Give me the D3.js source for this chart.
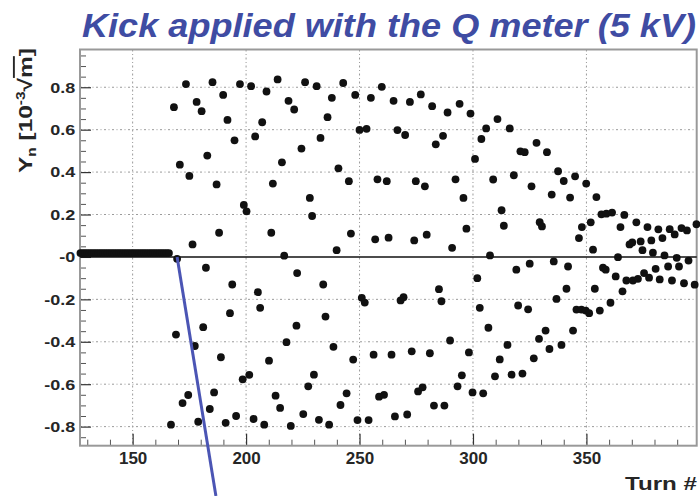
<!DOCTYPE html>
<html>
<head>
<meta charset="utf-8">
<script src="https://cdn.jsdelivr.net/npm/d3@7"></script>
<style>
  body { margin: 0; background: #fff; }
  svg { display: block; }
  text { font-family: "Liberation Sans", Arial, sans-serif; }
</style>
</head>
<body>
<svg id="chart" width="700" height="496"></svg>
<script>
// turns before the kick (flat, near zero)
const preTurns = [127,128,129,130,131,132,133,134,135,136,137,138,139,140,141,142,143,144,145,146,
                  147,148,149,150,151,152,153,154,155,156,157,158,159,160,161,162,163,164,165,166];
const preYn = [0.018,0.018,0.018,0.018,0.018,0.018,0.018,0.018,0.018,0.018,0.018,0.018,0.018,0.018,0.018,0.018,0.018,0.018,0.018,0.018,
               0.018,0.018,0.018,0.018,0.018,0.018,0.018,0.018,0.018,0.018,0.018,0.018,0.018,0.018,0.018,0.018,0.018,0.018,0.018,0.018];

// turns after the kick
const kickTurns = [166.9,168.2,169.1,169.6,170.8,172.0,173.5,174.5,175.0,176.4,177.4,178.2,178.9,180.4,181.1,182.3,182.9,184.0,185.2,185.9,
  187.0,188.1,188.9,189.9,191.0,191.8,192.9,193.9,194.9,195.6,197.3,198.5,199.0,200.2,201.4,202.2,203.3,204.0,205.2,206.2,
  207.1,208.0,209.0,210.1,211.1,211.8,213.0,213.9,215.0,215.8,216.8,217.8,218.7,219.7,221.2,222.2,222.5,224.4,225.2,226.0,
  227.4,228.1,229.1,229.9,231.1,232.1,232.8,234.0,235.0,235.9,236.6,237.8,238.5,239.9,240.7,241.6,242.8,244.3,245.3,246.2,
  247.2,248.1,249.1,250.0,251.0,252.3,253.1,254.0,255.0,256.2,256.9,257.9,258.6,259.8,260.8,262.0,262.8,264.1,265.0,265.6,
  266.7,268.1,269.4,270.1,271.0,272.2,273.0,274.1,274.8,275.8,277.0,277.8,278.8,279.6,281.0,282.0,282.8,283.6,285.0,286.1,
  286.8,287.4,288.8,289.9,290.8,292.3,293.2,294.1,295.1,295.8,297.1,298.2,298.9,299.8,300.9,301.9,303.0,303.7,304.5,305.8,
  306.8,307.5,308.9,309.7,310.8,311.8,312.6,313.6,315.2,316.2,317.0,318.0,319.1,319.9,320.9,321.8,322.8,324.3,325.0,325.8,
  326.8,328.0,329.1,329.4,330.4,332.0,332.6,333.7,334.7,335.6,336.8,337.5,339.0,340.0,341.2,341.9,342.8,344.1,345.0,345.6,
  346.7,347.8,348.0,349.7,349.9,351.2,351.9,352.9,353.7,354.4,355.9,356.6,357.3,358.5,358.8,360.6,361.3,362.9,363.9,365.0,
  365.9,366.7,367.6,369.0,370.2,370.5,372.0,372.7,373.9,374.7,375.4,376.9,377.6,378.6,379.3,380.5,381.7,382.3,383.5,384.4,
  386.0,386.7,387.7,388.9,389.8,390.8,391.9,393.0,394.3,395.0,397.7,398.5];
const kickYn = [-0.791,0.706,-0.366,-0.009,0.435,-0.689,0.815,-0.651,0.382,0.059,-0.420,0.731,-0.777,0.687,-0.331,-0.051,0.478,-0.717,0.824,-0.639,
  0.342,0.114,-0.473,0.764,-0.782,0.646,-0.265,-0.130,0.550,-0.750,0.815,-0.577,0.245,0.215,-0.556,0.805,-0.764,0.568,-0.166,-0.240,
  0.635,-0.791,0.780,-0.489,0.114,0.346,-0.654,0.837,-0.712,0.446,0.006,-0.402,0.736,-0.797,0.695,-0.324,-0.076,0.511,-0.741,0.824,
  -0.610,0.278,0.193,-0.555,0.805,-0.768,0.561,-0.130,-0.281,0.659,-0.791,0.750,-0.424,0.032,0.418,-0.698,0.820,-0.643,0.357,0.110,
  -0.484,0.764,-0.769,0.599,-0.193,-0.215,0.604,-0.769,0.750,-0.461,0.083,0.366,-0.659,0.802,-0.650,0.357,0.091,-0.461,0.736,-0.752,
  0.598,-0.205,-0.190,0.575,-0.743,0.731,-0.445,0.078,0.357,-0.634,0.766,-0.615,0.333,0.105,-0.454,0.711,-0.701,0.531,-0.152,-0.209,
  0.571,-0.701,0.681,-0.394,0.043,0.366,-0.610,0.722,-0.558,0.278,0.133,-0.450,0.676,-0.639,0.462,-0.100,-0.240,0.556,-0.643,0.606,
  -0.334,0.007,0.365,-0.563,0.650,-0.483,0.220,0.147,-0.415,0.606,-0.555,0.385,-0.060,-0.229,0.498,-0.550,0.494,-0.247,-0.032,0.333,
  -0.478,0.538,-0.386,0.164,0.144,-0.347,0.494,-0.434,0.294,-0.021,-0.198,0.404,-0.415,0.358,-0.150,-0.045,0.280,-0.347,0.380,-0.248,
  0.089,-0.248,0.141,-0.253,0.346,-0.265,0.163,0.034,-0.150,0.282,-0.253,0.201,-0.051,-0.060,0.204,-0.216,0.209,-0.092,-0.001,0.141,
  -0.162,0.198,-0.111,0.059,0.068,-0.111,0.163,-0.103,0.073,0.032,-0.076,0.141,-0.098,0.078,0.020,-0.056,0.130,-0.106,0.089,0.007,
  -0.045,0.131,-0.111,0.106,-0.004,-0.045,0.136,-0.124,0.125,-0.017,-0.131,0.154];

const xTicks = [150, 200, 250, 300, 350];
const yTicks = [-0.8, -0.6, -0.4, -0.2, 0, 0.2, 0.4, 0.6, 0.8];
const yTickLabels = ["-0.8", "-0.6", "-0.4", "-0.2", "-0", "0.2", "0.4", "0.6", "0.8"];
const titleText = "Kick applied with the Q meter (5 kV)";
// blue annotation line, in data units (ends below the frame)
const kickMarker = [[169.6, 0], [186.7, -1.127]];

const svg = d3.select('#chart')
const plotLeft = 80, plotRight = 696.7, plotTop = 49.5, plotBottom = 445.7

const x = d3.scaleLinear().domain([126.8, 398.6]).range([plotLeft, plotRight])
const y = d3.scaleLinear().domain([-0.890, 0.978]).range([plotBottom, plotTop])

const points = preTurns.map((t, i) => ({t, v: preYn[i]}))
    .concat(kickTurns.map((t, i) => ({t, v: kickYn[i]})))

// grid
const grid = svg.append('g').attr('class', 'grid')
grid.selectAll('line.gx').data(xTicks).enter().append('line').attr('class', 'gx')
    .attr('x1', d => x(d)).attr('x2', d => x(d))
    .attr('y1', plotTop).attr('y2', plotBottom)
grid.selectAll('line.gy').data(yTicks.filter(d => d !== 0)).enter().append('line').attr('class', 'gy')
    .attr('x1', plotLeft).attr('x2', plotRight)
    .attr('y1', d => y(d)).attr('y2', d => y(d))
grid.selectAll('line')
    .attr('stroke', '#9a9a9a')
    .attr('stroke-width', 1)
    .attr('stroke-dasharray', '2,2.5,1,2.5')

// minor ticks
const yMinor = d3.range(-0.85, 0.96, 0.05).map(d => +d.toFixed(2)).filter(d => Math.abs(Math.round(d * 5) - d * 5) > 1e-6)
const xMinor = d3.range(130, 399, 10).filter(d => d % 50 !== 0)

svg.append('g')
    .attr('transform', `translate(${plotLeft},0)`)
    .call(d3.axisLeft(y).tickValues(yMinor).tickSize(-6).tickFormat(''))
    .call(g => g.select('.domain').remove())
    .selectAll('line').attr('stroke', '#555')

svg.append('g')
    .attr('transform', `translate(0,${plotBottom})`)
    .call(d3.axisBottom(x).tickValues(xMinor).tickSize(-6).tickFormat(''))
    .call(g => g.select('.domain').remove())
    .selectAll('line').attr('stroke', '#555')

// major ticks + labels
const yAxisG = svg.append('g')
    .attr('transform', `translate(${plotLeft},0)`)
    .call(d3.axisLeft(y).tickValues(yTicks).tickSize(-11).tickPadding(4)
        .tickFormat((d, i) => yTickLabels[i]))
yAxisG.select('.domain').remove()
yAxisG.selectAll('line').attr('stroke', '#333').attr('stroke-width', 1.2)
yAxisG.selectAll('text')
    .attr('font-size', 15).attr('font-weight', 'bold').attr('fill', '#262626')
    .attr('transform', 'scale(1.2,1)')

const xAxisG = svg.append('g')
    .attr('transform', `translate(0,${plotBottom})`)
    .call(d3.axisBottom(x).tickValues(xTicks).tickSize(-12).tickPadding(6))
xAxisG.select('.domain').remove()
xAxisG.selectAll('line').attr('stroke', '#333').attr('stroke-width', 1.2)
xAxisG.selectAll('text')
    .attr('font-size', 17).attr('font-weight', 'bold').attr('fill', '#262626')

// frame
svg.append('rect')
    .attr('x', plotLeft).attr('y', plotTop)
    .attr('width', plotRight - plotLeft).attr('height', plotBottom - plotTop)
    .attr('fill', 'none').attr('stroke', '#999').attr('stroke-width', 2)

// zero line
svg.append('line')
    .attr('x1', plotLeft).attr('x2', plotRight)
    .attr('y1', y(0)).attr('y2', y(0))
    .attr('stroke', '#111').attr('stroke-width', 1.6)

// points
svg.append('g').selectAll('circle')
    .data(points).enter().append('circle')
    .attr('cx', d => x(d.t))
    .attr('cy', d => y(d.v))
    .attr('r', 3.9)
    .attr('fill', '#111')

// kick annotation
svg.append('line')
    .attr('x1', x(kickMarker[0][0])).attr('y1', y(kickMarker[0][1]))
    .attr('x2', x(kickMarker[1][0])).attr('y2', y(kickMarker[1][1]))
    .attr('stroke', '#4b55b4').attr('stroke-width', 3)

// title
svg.append('text')
    .attr('x', 82).attr('y', 37)
    .attr('font-size', 33).attr('font-weight', 'bold').attr('font-style', 'italic')
    .attr('fill', '#3f4ca3')
    .attr('textLength', 614).attr('lengthAdjust', 'spacingAndGlyphs')
    .text(titleText)

// axis titles
svg.append('text')
    .attr('x', 697).attr('y', 490)
    .attr('text-anchor', 'end')
    .attr('font-size', 19).attr('font-weight', 'bold').attr('fill', '#262626')
    .attr('textLength', 72).attr('lengthAdjust', 'spacingAndGlyphs')
    .text('Turn #')

const yTitle = svg.append('text')
    .attr('transform', 'translate(32,48) rotate(-90) scale(1.29,1)')
    .attr('text-anchor', 'end')
    .attr('font-size', 19).attr('font-weight', 'bold').attr('fill', '#262626')
yTitle.append('tspan').text('Y')
yTitle.append('tspan').attr('font-size', 12).attr('dy', 4).text('n')
yTitle.append('tspan').attr('dy', -4).text(' [10')
yTitle.append('tspan').attr('font-size', 12).attr('dy', -7).text('-3')
yTitle.append('tspan').attr('dy', 7).text('√')
yTitle.append('tspan').style('text-decoration', 'overline').text('m')
yTitle.append('tspan').text(']')
</script>
</body>
</html>
